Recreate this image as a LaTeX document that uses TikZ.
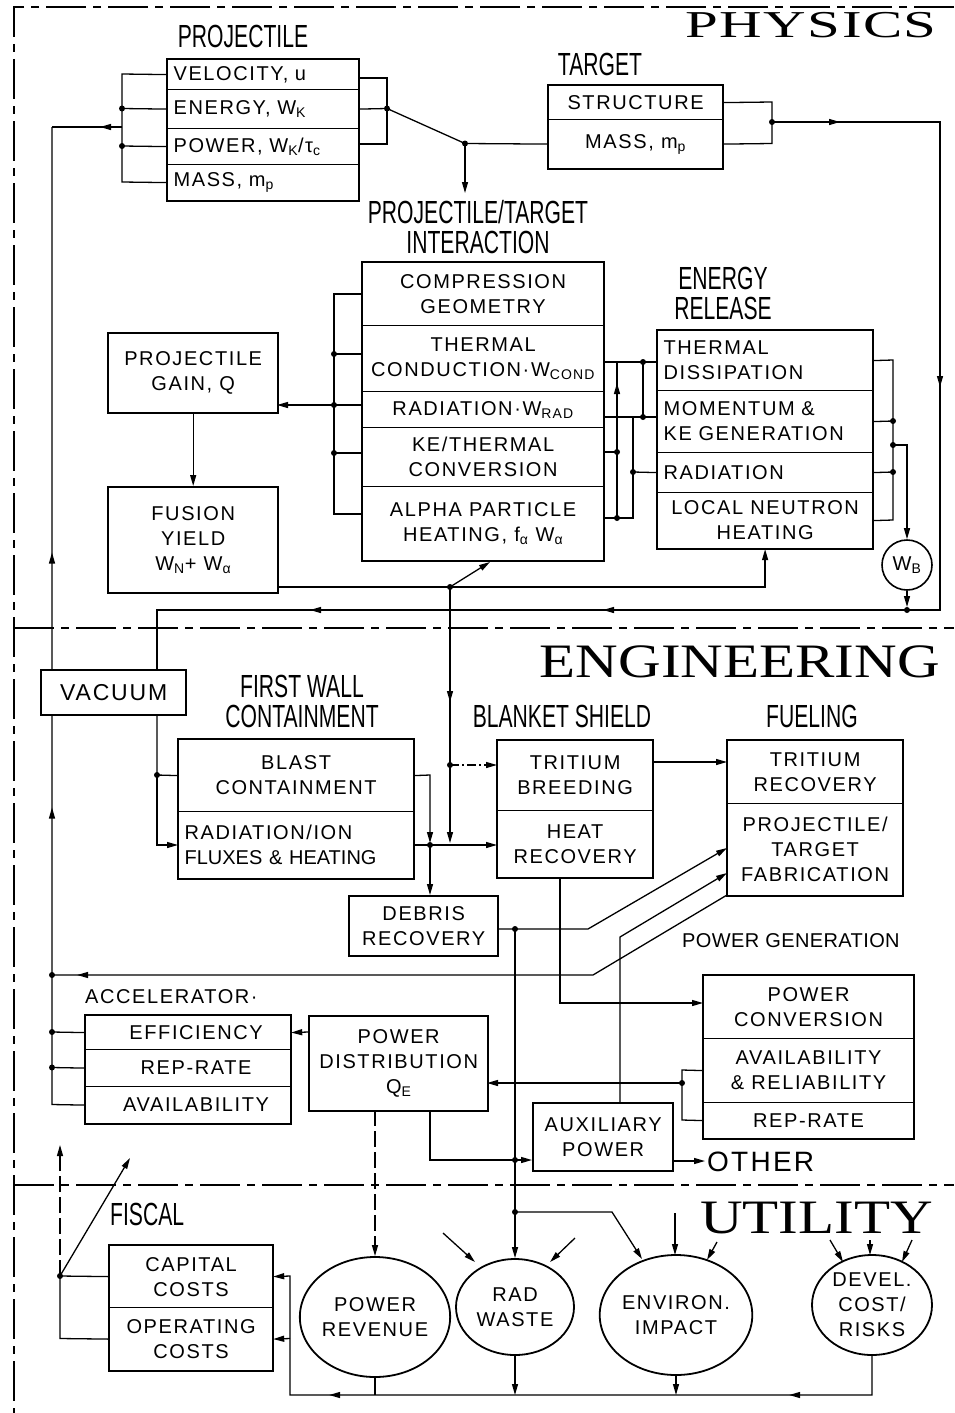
\documentclass[tikz,border=0pt]{standalone}
\usepackage{fontspec}
\setmainfont{Liberation Sans}
\newfontfamily\bxf[LetterSpace=8]{Liberation Sans}
\newfontfamily\hdf[FakeStretch=0.66]{Liberation Sans}
\newfontfamily\secf[FakeStretch=1.23]{Liberation Serif}
\newfontfamily\secfw[FakeStretch=1.55,LetterSpace=4]{Liberation Serif}
\usetikzlibrary{arrows.meta,decorations.markings,shapes.geometric}
\pgfdeclarelayer{bg}
\pgfsetlayers{bg,main}
\newcommand\bxs{\bxf\fontsize{20}{25}\selectfont}
\newcommand\hds{\hdf\fontsize{32}{30}\selectfont}
\newcommand\sbs[1]{\textsubscript{#1}}
\tikzset{
  row/.style={draw, fill=white, line width=1.2pt, anchor=north west, inner xsep=6pt, inner ysep=1pt, font=\bxs, align=center},
  sbox/.style={row, line width=2.4pt},
  oframe/.style={line width=2.4pt},
  conn/.style={line width=1.3pt},
  arr/.style={conn, -{Triangle[length=11pt,width=6pt]}},
  dotn/.style={circle, fill, inner sep=0pt, minimum size=6pt},
  hdr/.style={font=\hds, inner sep=0pt, anchor=north, align=center},
  bline/.style={line width=1.6pt, dash pattern=on 40pt off 7pt on 8pt off 7pt},
  dashdot/.style={dash pattern=on 9pt off 3pt on 2pt off 3pt},
  longdash/.style={dash pattern=on 16pt off 5pt},
  midarr/.style={postaction={decorate, decoration={markings, mark=at position #1 with {\arrow{Triangle[length=11pt,width=6pt]}}}}},
  circ/.style={draw, fill=white, ellipse, line width=1.8pt, font=\bxs, align=center, inner sep=0pt},
}
\begin{document}
\begin{tikzpicture}[x=1pt,y=-1pt]
\useasboundingbox (0,0) rectangle (954,1413);
\draw[bline] (954,7) -- (14,7) -- (14,1413);
\draw[bline] (14,628) -- (954,628);
\draw[bline] (14,1185) -- (954,1185);

% section titles
\node[font=\secfw\fontsize{38}{38}\selectfont, anchor=base east, inner sep=0pt] (tphys) at (937,38) {PHYSICS};
\node[font=\secf\fontsize{48}{48}\selectfont, anchor=base east, inner sep=0pt] (teng) at (940,677) {ENGINEERING};
\node[font=\secf\fontsize{48}{48}\selectfont, anchor=base east, inner sep=0pt] (tutil) at (933,1233) {UTILITY};

% projectile
\node[hdr] (hproj) at (243,25) {PROJECTILE};
\node[row, minimum width=191pt, minimum height=30pt, text width=179pt, align=left] (pv) at (167,59) {VELOCITY, u};
\node[row, minimum width=191pt, minimum height=39pt, text width=179pt, align=left] (pe) at (167,89) {ENERGY, W\sbs{K}};
\node[row, minimum width=191pt, minimum height=36pt, text width=179pt, align=left] (pp) at (167,128) {POWER, W\sbs{K}/τ\sbs{c}};
\node[row, minimum width=191pt, minimum height=36pt, text width=179pt, align=left] (pm) at (167,164) {MASS, m\sbs{p}};
\draw[oframe] (pv.north west) rectangle (pm.south east);

% target
\node[hdr] (htgt) at (600,53) {TARGET};
\node[row, minimum width=174pt, minimum height=34pt] (ts) at (548,85) {STRUCTURE};
\node[row, minimum width=174pt, minimum height=49pt] (tm) at (548,119) {MASS, m\sbs{p}};
\draw[oframe] (ts.north west) rectangle (tm.south east);

% interaction
\node[hdr] (hint) at (478,200) {PROJECTILE/TARGET\\INTERACTION};
\node[row, minimum width=241pt, minimum height=63pt] (i1) at (362,262) {COMPRESSION\\GEOMETRY};
\node[row, minimum width=241pt, minimum height=66pt] (i2) at (362,325) {THERMAL\\CONDUCTION·W\sbs{COND}};
\node[row, minimum width=241pt, minimum height=36pt] (i3) at (362,391) {RADIATION·W\sbs{RAD}};
\node[row, minimum width=241pt, minimum height=59pt] (i4) at (362,427) {KE/THERMAL\\CONVERSION};
\node[row, minimum width=241pt, minimum height=74pt] (i5) at (362,486) {ALPHA PARTICLE\\HEATING, f\sbs{α} W\sbs{α}};
\draw[oframe] (i1.north west) rectangle (i5.south east);

% energy release
\node[hdr] (her) at (723,267) {ENERGY\\RELEASE};
\node[row, minimum width=215pt, minimum height=60pt, text width=203pt, align=left] (er1) at (657,330) {THERMAL\\DISSIPATION};
\node[row, minimum width=215pt, minimum height=62pt, text width=203pt, align=left] (er2) at (657,390) {MOMENTUM \&\\KE GENERATION};
\node[row, minimum width=215pt, minimum height=40pt, text width=203pt, align=left] (er3) at (657,452) {RADIATION};
\node[row, minimum width=215pt, minimum height=56pt] (er4) at (657,492) {LOCAL NEUTRON\\HEATING};
\draw[oframe] (er1.north west) rectangle (er4.south east);
\node[draw, fill=white, circle, line width=1.6pt, minimum size=50pt, inner sep=0pt, font=\bxs] (wb) at (907,565) {W\sbs{B}};

% gain / yield
\node[sbox, minimum width=170pt, minimum height=80pt] (gain) at (107,332) {PROJECTILE\\GAIN, Q};
\node[sbox, minimum width=170pt, minimum height=106pt] (fus) at (107,486) {FUSION\\YIELD\\W\sbs{N}+ W\sbs{α}};

% engineering
\node[sbox, minimum width=145pt, minimum height=45pt, font=\bxf\fontsize{23}{27}\selectfont] (vac) at (40,669) {VACUUM};
\node[hdr] (hfw) at (302,675) {FIRST WALL\\CONTAINMENT};
\node[row, minimum width=235pt, minimum height=72pt] (fw1) at (178,739) {BLAST\\CONTAINMENT};
\node[row, minimum width=235pt, minimum height=67pt, text width=223pt, align=left] (fw2) at (178,811) {RADIATION/ION\\\addfontfeature{LetterSpace=0}FLUXES \& HEATING};
\draw[oframe] (fw1.north west) rectangle (fw2.south east);
\node[sbox, minimum width=149pt, minimum height=60pt] (deb) at (348,895) {DEBRIS\\RECOVERY};

\node[hdr] (hbl) at (562,705) {BLANKET SHIELD};
\node[row, minimum width=155pt, minimum height=70pt] (b1) at (497,740) {TRITIUM\\BREEDING};
\node[row, minimum width=155pt, minimum height=67pt] (b2) at (497,810) {HEAT\\RECOVERY};
\draw[oframe] (b1.north west) rectangle (b2.south east);

\node[hdr] (hfu) at (812,705) {FUELING};
\node[row, minimum width=175pt, minimum height=63pt] (f1) at (727,740) {TRITIUM\\RECOVERY};
\node[row, minimum width=175pt, minimum height=92pt] (f2) at (727,803) {PROJECTILE/\\TARGET\\FABRICATION};
\draw[oframe] (f1.north west) rectangle (f2.south east);

\node[font=\bxs, anchor=base west, inner sep=0pt] (hpg) at (682,947) {\addfontfeature{LetterSpace=2}POWER GENERATION};
\node[row, minimum width=210pt, minimum height=63pt] (pc1) at (703,975) {POWER\\CONVERSION};
\node[row, minimum width=210pt, minimum height=64pt] (pc2) at (703,1038) {AVAILABILITY\\\& RELIABILITY};
\node[row, minimum width=210pt, minimum height=36pt] (pc3) at (703,1102) {REP-RATE};
\draw[oframe] (pc1.north west) rectangle (pc3.south east);

\node[font=\bxs, anchor=base west, inner sep=0pt] (hacc) at (85,1003) {ACCELERATOR·};
\node[row, minimum width=205pt, minimum height=34pt] (a1) at (85,1015) {\hspace*{16pt}EFFICIENCY};
\node[row, minimum width=205pt, minimum height=37pt] (a2) at (85,1049) {\hspace*{16pt}REP-RATE};
\node[row, minimum width=205pt, minimum height=37pt] (a3) at (85,1086) {\hspace*{16pt}AVAILABILITY};
\draw[oframe] (a1.north west) rectangle (a3.south east);
\node[sbox, minimum width=179pt, minimum height=95pt] (pd) at (308,1015) {POWER\\DISTRIBUTION\\Q\sbs{E}};
\node[sbox, minimum width=140pt, minimum height=68pt] (aux) at (532,1102) {AUXILIARY\\POWER};
\node[font=\bxf\fontsize{28}{30}\selectfont, anchor=west, inner sep=0pt] (oth) at (707,1162) {OTHER};

% utility
\node[font=\hds, anchor=north west, inner sep=0pt] (hfis) at (110,1203) {FISCAL};
\node[row, minimum width=163pt, minimum height=62pt] (fc1) at (109,1245) {CAPITAL\\COSTS};
\node[row, minimum width=163pt, minimum height=63pt] (fc2) at (109,1307) {OPERATING\\COSTS};
\draw[oframe] (fc1.north west) rectangle (fc2.south east);
\node[circ, minimum width=140pt, minimum height=120pt] (pr) at (375,1317) {POWER\\REVENUE};
\node[circ, minimum width=118pt, minimum height=96pt] (rw) at (515,1307) {RAD\\WASTE};
\node[circ, minimum width=142pt, minimum height=120pt] (ei) at (676,1315) {ENVIRON.\\IMPACT};
\node[circ, minimum width=120pt, minimum height=100pt] (dc) at (872,1305) {DEVEL.\\COST/\\RISKS};

\begin{pgfonlayer}{bg}
% projectile connections
\draw[conn] (pv.west) -- (122,74) -- (122,182) -- (pm.west);
\draw[conn] (pe.west) -- (122,108.5);
\draw[conn] (pp.west) -- (122,146);
\node[dotn] (j1) at (122,108.5) {};
\node[dotn] (j2) at (122,146) {};
\draw[conn, midarr=22pt] (122,127) -- (52,127);
\draw[conn, midarr=330pt, midarr=585pt] (a3.west) -- (52,1104.5) -- (52,127);
\draw[conn] (52,1032) -- (a1.west);
\draw[conn] (52,1067.5) -- (a2.west);
\node[dotn] (j3) at (52,1032) {};
\node[dotn] (j4) at (52,1067.5) {};
\node[dotn] (j5) at (52,975) {};
\draw[conn] (358,78) -- (387,78) -- (387,144) -- (358,144);
\draw[conn] (pe.east) -- (387,108.5);
\node[dotn] (j6) at (387,108.5) {};
\draw[conn] (387,108.5) -- (465,143.5) -- (tm.west);
\node[dotn] (j7) at (465,143.5) {};
\draw[arr] (465,143.5) -- (465,193);
% target loop
\draw[conn] (ts.east) -- (772,102) -- (772,143.5) -- (tm.east);
\node[dotn] (j8) at (772,122) {};
\draw[conn, midarr=68pt, midarr=433pt, midarr=993pt, midarr=1286pt] (772,122) -- (940,122) -- (940,610) -- (157,610) -- (157,669);
% energy release right
\draw[conn] (er1.east) -- (893,360) -- (893,520) -- (er4.east);
\draw[conn] (er2.east) -- (893,421);
\draw[conn] (er3.east) -- (893,472);
\node[dotn] (j9) at (893,421) {};
\node[dotn] (j10) at (893,445) {};
\node[dotn] (j11) at (893,472) {};
\draw[arr] (893,445) -- (907,445) -- (wb.north);
\draw[arr] (wb.south) -- (907,607);
\node[dotn] (j12) at (907,610) {};
% interaction left
\draw[conn] (362,294) -- (334,294) -- (334,514) -- (362,514);
\draw[conn] (362,354) -- (334,354);
\draw[conn] (362,405) -- (334,405);
\draw[conn] (362,453) -- (334,453);
\node[dotn] (j13) at (334,354) {};
\node[dotn] (j14) at (334,405) {};
\node[dotn] (j15) at (334,453) {};
\draw[arr] (334,405) -- (277,405);
% interaction right
\draw[conn] (603,362) -- (657,362);
\draw[conn] (603,417) -- (657,417);
\draw[conn] (643,362) -- (643,417);
\node[dotn] (j16) at (643,362) {};
\node[dotn] (j17) at (643,417) {};
\draw[conn] (603,452) -- (617,452);
\draw[conn] (603,518) -- (633,518) -- (633,417);
\draw[conn, midarr=135pt] (617,518) -- (617,362);
\node[dotn] (j18) at (617,452) {};
\node[dotn] (j19) at (617,518) {};
\draw[conn] (633,472) -- (er3.west);
\node[dotn] (j20) at (633,472) {};
% gain / fusion
\draw[arr] (gain.south) -- (fus.north);
\draw[arr] (277,587) -| (er4.south);
\node[dotn] (j21) at (450,587) {};
\draw[arr] (450,587) -- (490,562);
\draw[arr, midarr=115pt] (450,587) -- (450,843);
\node[dotn] (j22) at (450,765) {};
\draw[arr, dashdot] (450,765) -- (497,765);
% first wall
\draw[conn] (157,714) -- (157,775) -- (fw1.west);
\node[dotn] (j23) at (157,775) {};
\draw[arr] (157,775) -- (157,845) -- (178,845);
\draw[arr] (fw1.east) -- (430,775) -- (430,843);
\draw[arr] (413,845) -- (497,845);
\node[dotn] (j24) at (430,845) {};
\draw[arr] (430,845) -- (430,895);
% blanket
\draw[arr] (652,762) -- (727,762);
\draw[arr] (560,877) -- (560,1003) -- (703,1003);
% debris
\draw[arr] (497,929) -- (588,929) -- (727,848);
\node[dotn] (j25) at (515,929) {};
\draw[arr] (515,929) -- (rw.north);
\node[dotn] (j26) at (515,1160) {};
\node[dotn] (j27) at (515,1212) {};
\draw[arr] (515,1212) -- (612,1212) -- (642,1259);
% aux / fab / accel
\draw[arr] (620,1102) -- (620,937) -- (727,873);
\draw[conn, midarr=672pt] (727,895) -- (593,975) -- (52,975);
\draw[conn] (pc2.west) -- (682,1070) -- (682,1120) -- (pc3.west);
\node[dotn] (j28) at (682,1083) {};
\draw[arr] (682,1083) -- (487,1083);
\draw[arr] (308,1032) -- (a1.east);
\draw[arr, longdash] (375,1110) -- (pr.north);
\draw[arr] (430,1110) -- (430,1160) -- (532,1160);
\draw[arr] (672,1161) -- (705,1161);
% fiscal
\draw[conn] (fc1.west) -- (60,1276) -- (60,1338.5) -- (fc2.west);
\node[dotn] (j29) at (60,1276) {};
\draw[arr] (60,1276) -- (130,1158);
\draw[arr, longdash] (60,1276) -- (60,1145);
% utility returns
\draw[arr, midarr=122pt, midarr=582pt] (dc.south) -- (872,1395) -- (290,1395) -- (290,1276) -- (fc1.east);
\draw[arr] (290,1338.5) -- (fc2.east);
\draw[conn] (pr.south) -- (375,1395);
\draw[arr] (rw.south) -- (515,1395);
\draw[arr] (ei.south) -- (676,1395);
\draw[arr] (443,1233) -- (475,1262);
\draw[arr] (575,1238) -- (550,1262);
\draw[arr] (675,1213) -- (675,1255);
\draw[arr] (717,1242) -- (707,1260);
\draw[arr] (830,1240) -- (843,1262);
\draw[arr] (870,1240) -- (870,1255);
\draw[arr] (912,1240) -- (902,1262);
\end{pgfonlayer}
\end{tikzpicture}
\end{document}
